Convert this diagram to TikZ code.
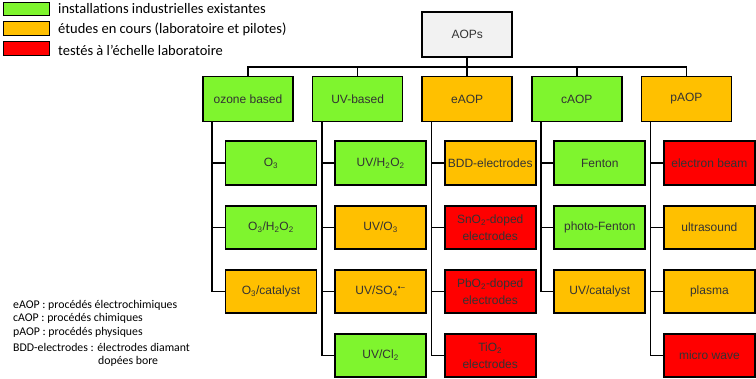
\documentclass[tikz,border=0pt]{standalone}
\usepackage{fontspec}
\setmainfont{Carlito}
\newfontfamily\arialf{Liberation Sans}
\definecolor{cgreen}{HTML}{7FF52E}
\definecolor{corange}{HTML}{FFC000}
\definecolor{cred}{HTML}{FF0000}
\definecolor{cgray}{HTML}{F2F2F2}
\begin{document}
\begin{tikzpicture}[x=1pt,y=-1pt,
  box/.style={draw=black, line width=1.7pt, minimum width=90pt, minimum height=45pt, inner sep=1pt,
    font=\arialf\fontsize{12}{16.5}\selectfont, text=black!80, align=center},
  kid/.style={box, minimum width=91pt, minimum height=43.5pt},
  conn/.style={line width=1.7pt, line cap=rect},
  legbox/.style={draw=black, line width=1pt, minimum width=46pt, minimum height=13.5pt, inner sep=0pt},
  legtext/.style={anchor=west, inner sep=0pt, font=\fontsize{14.5}{16}\selectfont},
  note/.style={anchor=west, inner sep=0pt, font=\fontsize{11.8}{13}\selectfont}]
\useasboundingbox (0,0) rectangle (756,379);
% legend
\node[legbox, fill=cgreen] (lg1) at (26.5,9) {};
\node[legbox, fill=corange] (lg2) at (26.5,28.5) {};
\node[legbox, fill=cred] (lg3) at (26.5,48.5) {};
\node[legtext] (lt1) at ([xshift=8pt]lg1.east) {installations industrielles existantes};
\node[legtext] (lt2) at ([xshift=8pt,yshift=-1pt]lg2.east) {études en cours (laboratoire et pilotes)};
\node[legtext] (lt3) at ([xshift=8pt,yshift=-1.5pt]lg3.east) {testés à l’échelle laboratoire};
% notes
\node[note] (n1) at (13,305) {eAOP : procédés électrochimiques};
\node[note] (n2) at (13,318.5) {cAOP : procédés chimiques};
\node[note] (n3) at (13,332.5) {pAOP : procédés physiques};
\node[note] (n4) at (13,347) {BDD-electrodes : électrodes diamant};
\node[note] (n5) at (98,361) {dopées bore};
% root
\node[box, fill=cgray] (aops) at (467.2,34.3) {AOPs};
\coordinate (bus) at (467.2,67);
% level 1
\node[box, fill=cgreen] (oz) at (248,99) {ozone based};
\node[box, fill=cgreen] (uv) at (357.6,99) {UV-based};
\node[box, fill=corange] (ea) at (467.2,99) {eAOP};
\node[box, fill=cgreen] (ca) at (576.8,99) {cAOP};
\node[box, fill=corange] (pa) at (686.4,99) {pAOP};
% children ozone
\node[kid, fill=cgreen] (oz1) at (271,163) {O\textsubscript{3}};
\node[kid, fill=cgreen] (oz2) at (271,227.5) {O\textsubscript{3}/H\textsubscript{2}O\textsubscript{2}};
\node[kid, fill=corange] (oz3) at (271,291.5) {O\textsubscript{3}/catalyst};
% children UV
\node[kid, fill=cgreen] (uv1) at (380.6,163) {UV/H\textsubscript{2}O\textsubscript{2}};
\node[kid, fill=corange] (uv2) at (380.6,227.5) {UV/O\textsubscript{3}};
\node[kid, fill=corange] (uv3) at (380.6,291.5) {UV/SO\textsubscript{4}\textsuperscript{•−}};
\node[kid, fill=cgreen] (uv4) at (380.6,355.5) {UV/Cl\textsubscript{2}};
% children eAOP
\node[kid, fill=corange] (ea1) at (490.2,163) {BDD-electrodes};
\node[kid, fill=cred] (ea2) at (490.2,227.5) {SnO\textsubscript{2}-doped\\electrodes};
\node[kid, fill=cred] (ea3) at (490.2,291.5) {PbO\textsubscript{2}-doped\\electrodes};
\node[kid, fill=cred] (ea4) at (490.2,355.5) {TiO\textsubscript{2}\\electrodes};
% children cAOP
\node[kid, fill=cgreen] (ca1) at (599.8,163) {Fenton};
\node[kid, fill=cgreen] (ca2) at (599.8,227.5) {photo-Fenton};
\node[kid, fill=corange] (ca3) at (599.8,291.5) {UV/catalyst};
% children pAOP
\node[kid, fill=cred] (pa1) at (709.4,163) {electron beam};
\node[kid, fill=corange] (pa2) at (709.4,227.5) {ultrasound};
\node[kid, fill=corange] (pa3) at (709.4,291.5) {plasma};
\node[kid, fill=cred] (pa4) at (709.4,355.5) {micro wave};
% bus
\draw[conn] (aops.south) -- (bus);
\draw[conn] (oz.north) -- (oz.north |- bus) -- (pa.north |- bus) -- (pa.north);
\foreach \p in {uv,ea,ca} \draw[conn] (\p.north) -- (\p.north |- bus);
% trunks
\foreach \p/\last/\others in {oz/oz3/{oz1,oz2}, uv/uv4/{uv1,uv2,uv3}, ea/ea4/{ea1,ea2,ea3}, ca/ca3/{ca1,ca2}, pa/pa4/{pa1,pa2,pa3}}{
  \draw[conn] ([xshift=10pt]\p.south west) |- (\last.west);
  \foreach \c in \others \draw[conn] ([xshift=10pt]\p.south west |- \c.west) -- (\c.west);
}
\end{tikzpicture}
\end{document}
